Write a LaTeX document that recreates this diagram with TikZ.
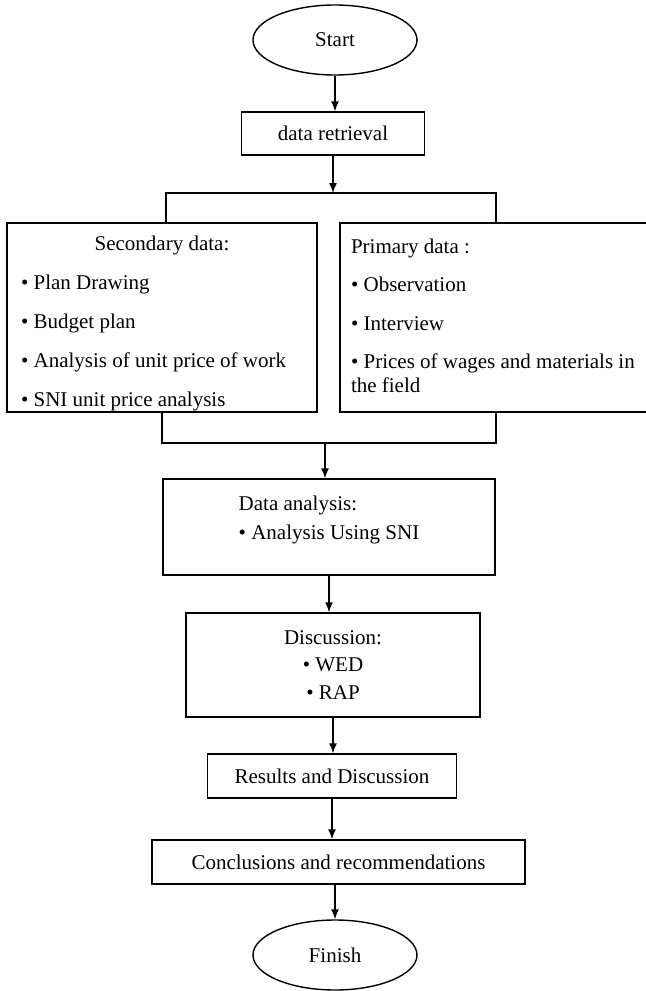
\documentclass[tikz,border=0pt]{standalone}
\usepackage{fontspec}
\setmainfont{Liberation Serif}
\usetikzlibrary{positioning, arrows.meta, shapes.geometric}

\begin{document}
\begin{tikzpicture}[
  x=0.5pt, y=-0.5pt,
  font=\fontsize{10.5}{12}\selectfont,
  line width=0.7pt,
  >={Latex[length=5pt,width=4pt]},
  terminalnode/.style={draw, ellipse, inner sep=0pt, minimum width=82pt, minimum height=35pt},
  stepnode/.style={draw, rectangle, inner sep=0pt, minimum height=22pt},
  listnode/.style={draw, rectangle, minimum height=94.5pt, align=left, inner ysep=0pt}
]
  \useasboundingbox (0,0) rectangle (645,991);

  % Start
  \node[terminalnode] (start) at (335,40) {Start};
  \node[stepnode, minimum width=91.5pt, minimum height=21.5pt] (retrieval) at (333,133.5) {data retrieval};

  % Secondary and primary data
  \node[listnode, inner xsep=7pt, text width=141pt] (secondary) at (162,317.5)
    {\spaceskip=0pt\rule{0pt}{13.2pt}\makebox[141pt]{Secondary data:}\\[7.5pt]
     • Plan Drawing\\[7.5pt]
     • Budget plan\\[7.5pt]
     • Analysis of unit price of work\\[7.5pt]
     • SNI unit price analysis};
  \node[listnode, inner xsep=5.5pt, text width=146pt] (primary) at (497,317.5)
    {\spaceskip=0pt Primary data :\\[7pt]
     • Observation\\[7.5pt]
     • Interview\\[7pt]
     • Prices of wages and materials in\\
     the field\rule[-2pt]{0pt}{2pt}};

  % Analysis and discussion
  \node[stepnode, minimum width=166pt, minimum height=48pt] (analysis) at (329,527)
    {\raisebox{3.5pt}[\height][\depth]{\begin{tabular}{@{}l@{}}Data analysis:\\[2.5pt] • Analysis Using SNI\end{tabular}}};
  \node[stepnode, align=center, minimum width=147pt, minimum height=52pt] (discussion) at (333,665)
    {Discussion:\\[1.75pt] • WED\\[1.75pt] • RAP};

  % Results, conclusions, finish
  \node[stepnode, minimum width=124.5pt] (results) at (332,776) {Results and Discussion};
  \node[stepnode, minimum width=186.5pt] (conclusions) at (338.5,862) {Conclusions and recommendations};
  \node[terminalnode] (finish) at (335,955) {Finish};

  % Connectors
  \coordinate (splitL) at (166,193);
  \coordinate (splitR) at (496,193);
  \coordinate (joinL) at (162,443);
  \coordinate (joinR) at (496,443);
  \coordinate (join) at (325,443);

  \draw[->] (start.south) -- (start.south |- retrieval.north);
  \draw[->] (retrieval.south) -- (retrieval.south |- splitL);
  \draw (splitL |- secondary.north) -- (splitL) -- (splitR) -- (splitR |- primary.north);
  \draw (joinL |- secondary.south) -- (joinL) -- (joinR) -- (joinR |- primary.south);
  \draw[->] (join) -- (join |- analysis.north);
  \draw[->] (analysis.south) -- (analysis.south |- discussion.north);
  \draw[->] (discussion.south) -- (discussion.south |- results.north);
  \draw[->] (results.south) -- (results.south |- conclusions.north);
  \draw[->] (finish.north |- conclusions.south) -- (finish.north);
\end{tikzpicture}
\end{document}
